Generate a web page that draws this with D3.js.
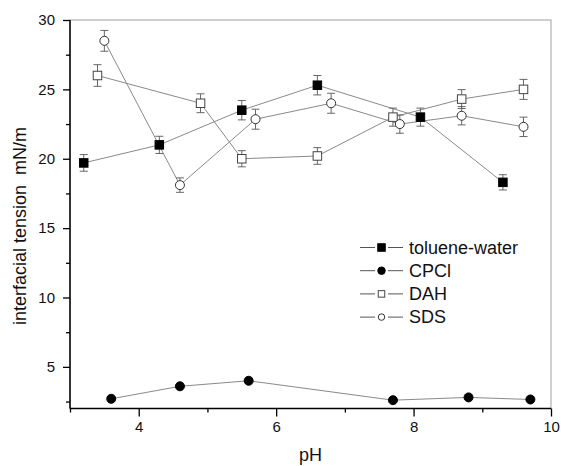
<!DOCTYPE html>
<html>
<head>
<meta charset="utf-8">
<script src="https://cdn.jsdelivr.net/npm/d3@7"></script>
<style>
  body { margin: 0; background: #fff; }
  svg { display: block; font-family: "Liberation Sans", Arial, sans-serif; }
</style>
</head>
<body>
<div id="chart"></div>
<script>
// data
const seriesNames = ['toluene-water', 'CPCl', 'DAH', 'SDS'];
const tolueneX = [3.2, 4.3, 5.5, 6.6, 8.1, 9.3];
const tolueneY = [19.7, 21.0, 23.5, 25.3, 23.0, 18.3];
const tolueneErr = [0.6, 0.62, 0.7, 0.7, 0.65, 0.55];
const cpclX = [3.6, 4.6, 5.6, 7.7, 8.8, 9.7];
const cpclY = [2.7, 3.6, 4.0, 2.6, 2.8, 2.65];
const dahX = [3.4, 4.9, 5.5, 6.6, 7.7, 8.7, 9.6];
const dahY = [26.0, 24.0, 20.0, 20.2, 23.0, 24.3, 25.0];
const dahErr = [0.78, 0.68, 0.58, 0.6, 0.65, 0.68, 0.72];
const sdsX = [3.5, 4.6, 5.7, 6.8, 7.8, 8.7, 9.6];
const sdsY = [28.5, 18.1, 22.85, 24.0, 22.5, 23.1, 22.3];
const sdsErr = [0.75, 0.52, 0.72, 0.72, 0.66, 0.66, 0.7];
const xTicks = [4, 6, 8, 10];
const xMinor = [3, 5, 7, 9];
const yTicks = [5, 10, 15, 20, 25, 30];
const yMinor = [2.5, 7.5, 12.5, 17.5, 22.5, 27.5];

const width = 561, height = 466;
const margin = { top: 20, right: 10, bottom: 57.5, left: 70 };

const series = [
  { name: seriesNames[0], xs: tolueneX, ys: tolueneY, err: tolueneErr, shape: 'square', filled: true },
  { name: seriesNames[1], xs: cpclX, ys: cpclY, err: null, shape: 'circle', filled: true },
  { name: seriesNames[2], xs: dahX, ys: dahY, err: dahErr, shape: 'square', filled: false },
  { name: seriesNames[3], xs: sdsX, ys: sdsY, err: sdsErr, shape: 'circle', filled: false }
];

const svg = d3.select('#chart').append('svg')
  .attr('width', width)
  .attr('height', height);

const x = d3.scaleLinear().domain([3, 10]).range([margin.left, width - margin.right]);
const y = d3.scaleLinear().domain([2, 30]).range([height - margin.bottom, margin.top]);

/* ---------- frame ---------- */
svg.append('rect')
  .attr('x', x(3)).attr('y', y(30))
  .attr('width', x(10) - x(3)).attr('height', y(2) - y(30))
  .attr('fill', 'none').attr('stroke', '#a0a0a0').attr('stroke-width', 1);

/* ---------- axes ---------- */
const xAxis = svg.append('g')
  .attr('transform', 'translate(0,' + y(2) + ')')
  .call(d3.axisBottom(x).tickValues(xTicks).tickSize(8).tickPadding(5).tickFormat(d3.format('d')));
svg.append('g')
  .attr('transform', 'translate(0,' + y(2) + ')')
  .call(d3.axisBottom(x).tickValues(xMinor).tickSize(4).tickFormat(''))
  .call(g => g.select('.domain').remove());

const yAxis = svg.append('g')
  .attr('transform', 'translate(' + x(3) + ',0)')
  .call(d3.axisLeft(y).tickValues(yTicks).tickSize(7).tickPadding(8).tickFormat(d3.format('d')));
svg.append('g')
  .attr('transform', 'translate(' + x(3) + ',0)')
  .call(d3.axisLeft(y).tickValues(yMinor).tickSize(4).tickFormat(''))
  .call(g => g.select('.domain').remove());

svg.selectAll('.tick line').attr('stroke', '#000').attr('stroke-width', 1.3);
svg.selectAll('.domain').attr('stroke', '#000').attr('stroke-width', 1.5);
xAxis.select('.domain').attr('d', 'M' + x(3) + ',0H' + x(10));
yAxis.select('.domain').attr('d', 'M0,' + y(2) + 'V' + y(30));
svg.selectAll('.tick text').attr('font-size', 15).attr('fill', '#111')
  .style('font-family', '"Liberation Sans", Arial, sans-serif');

/* ---------- axis labels ---------- */
svg.append('text')
  .attr('x', (x(3) + x(10)) / 2).attr('y', 461)
  .attr('text-anchor', 'middle').attr('font-size', 18).attr('fill', '#111')
  .text('pH');

svg.append('text')
  .attr('transform', 'translate(26,' + 226 + ') rotate(-90)')
  .attr('text-anchor', 'middle').attr('font-size', 18).attr('fill', '#111')
  .attr('xml:space', 'preserve')
  .style('white-space', 'pre')
  .text('interfacial tension  mN/m');

/* ---------- series ---------- */
const line = d3.line().x(d => x(d[0])).y(d => y(d[1]));

function drawMarker(g, shape, filled, size) {
  if (shape === 'square') {
    g.append('rect')
      .attr('x', -size / 2).attr('y', -size / 2)
      .attr('width', size).attr('height', size)
      .attr('fill', filled ? '#000' : '#fff')
      .attr('stroke', filled ? '#000' : '#444').attr('stroke-width', 1);
  } else {
    g.append('circle')
      .attr('r', size / 2)
      .attr('fill', filled ? '#000' : '#fff')
      .attr('stroke', filled ? '#000' : '#333').attr('stroke-width', 1);
  }
}

series.forEach(s => {
  const pts = s.xs.map((v, i) => [v, s.ys[i], s.err ? s.err[i] : 0]);
  svg.append('path')
    .datum(pts)
    .attr('d', line)
    .attr('fill', 'none')
    .attr('stroke', '#8a8a8a')
    .attr('stroke-width', 1);
});

series.forEach(s => {
  if (!s.err) return;
  const pts = s.xs.map((v, i) => [v, s.ys[i], s.err[i]]);
  const eb = svg.append('g').selectAll('g').data(pts).enter().append('g')
    .attr('stroke', '#666').attr('stroke-width', 1);
  eb.append('line')
    .attr('x1', d => x(d[0])).attr('x2', d => x(d[0]))
    .attr('y1', d => y(d[1] - d[2])).attr('y2', d => y(d[1] + d[2]));
  eb.append('line')
    .attr('x1', d => x(d[0]) - 4).attr('x2', d => x(d[0]) + 4)
    .attr('y1', d => y(d[1] + d[2])).attr('y2', d => y(d[1] + d[2]));
  eb.append('line')
    .attr('x1', d => x(d[0]) - 4).attr('x2', d => x(d[0]) + 4)
    .attr('y1', d => y(d[1] - d[2])).attr('y2', d => y(d[1] - d[2]));
});

series.forEach(s => {
  const pts = s.xs.map((v, i) => [v, s.ys[i]]);
  svg.append('g').selectAll('g').data(pts).enter().append('g')
    .attr('transform', d => 'translate(' + x(d[0]) + ',' + y(d[1]) + ')')
    .each(function () { drawMarker(d3.select(this), s.shape, s.filled, s.shape === 'square' ? 8.5 : 9); });
});

/* ---------- legend ---------- */
const legend = svg.append('g').attr('transform', 'translate(360,247.5)');
const rows = legend.selectAll('g').data(series).enter().append('g')
  .attr('transform', (d, i) => 'translate(0,' + (i * 23.2) + ')');
// line broken around the marker, as in the reference
rows.append('line')
  .attr('x1', 0).attr('x2', 15).attr('y1', 0).attr('y2', 0)
  .attr('stroke', '#555').attr('stroke-width', 1);
rows.append('line')
  .attr('x1', 28).attr('x2', 43).attr('y1', 0).attr('y2', 0)
  .attr('stroke', '#555').attr('stroke-width', 1);
rows.append('g')
  .attr('transform', 'translate(21.5,0)')
  .each(function (d) { drawMarker(d3.select(this), d.shape, d.filled, d.filled ? 7.5 : 6.5); });
rows.append('text')
  .attr('x', 49).attr('y', 0).attr('dy', '0.35em')
  .attr('font-size', 18).attr('fill', '#111')
  .text(d => d.name);
</script>
</body>
</html>
